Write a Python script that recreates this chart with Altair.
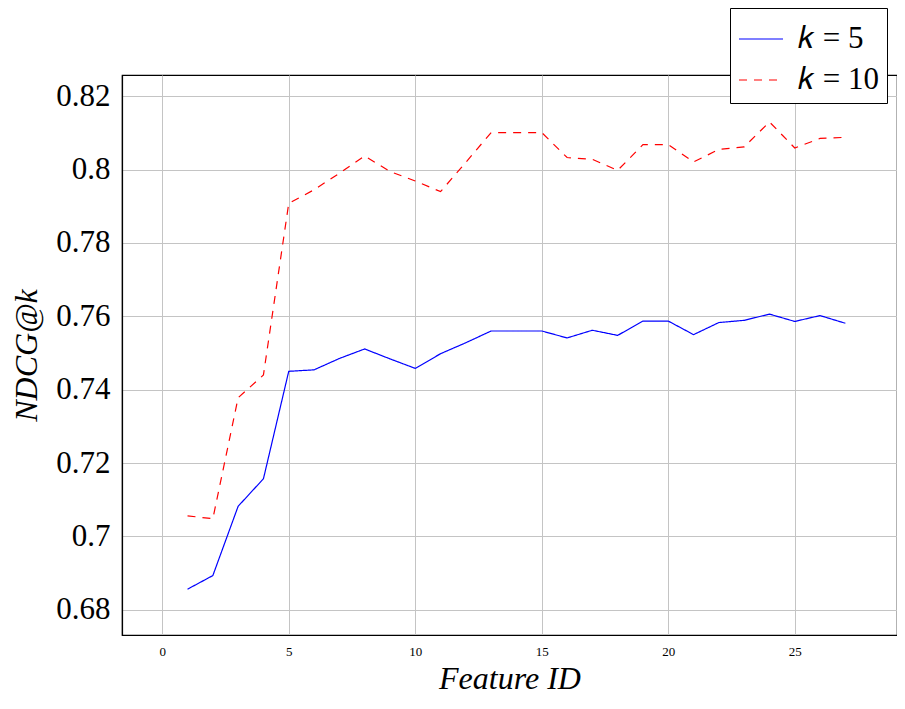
import altair as alt
import pandas as pd

feature_ids = list(range(1, 28))
ndcg_k5 = [0.6856, 0.6893, 0.7082, 0.7157, 0.7450, 0.7454, 0.7485, 0.7511, 0.7484,
           0.7458, 0.7498, 0.7528, 0.7560, 0.7560, 0.7560, 0.7541, 0.7562, 0.7548,
           0.7587, 0.7587, 0.7550, 0.7583, 0.7589, 0.7606, 0.7586, 0.7602, 0.7581]
ndcg_k10 = [0.7056, 0.7048, 0.7378, 0.7440, 0.7908, 0.7945, 0.7990, 0.8037, 0.7995,
            0.7969, 0.7940, 0.8020, 0.8101, 0.8101, 0.8101, 0.8033, 0.8028, 0.7998,
            0.8068, 0.8068, 0.8021, 0.8055, 0.8062, 0.8130, 0.8059, 0.8085, 0.8088]
series_names = ["\U0001D458 = 5", "\U0001D458 = 10"]
series_colors = ["#0000ff", "#ff0000"]
series_dash = [[1, 0], [8, 7]]
x_ticks = [0, 5, 10, 15, 20, 25]
y_ticks = [0.68, 0.70, 0.72, 0.74, 0.76, 0.78, 0.80, 0.82]

df = pd.DataFrame({
    "feature": feature_ids * 2,
    "value": ndcg_k5 + ndcg_k10,
    "series": [series_names[0]] * len(ndcg_k5) + [series_names[1]] * len(ndcg_k10),
})

FONT = "Liberation Serif"
W, H = 775, 560

legend = alt.Legend(
    title=None, orient="none", legendX=608, legendY=-67, direction="vertical",
    labelFont=FONT, labelFontSize=31, labelColor="black", labelOffset=14,
    symbolType="stroke", symbolSize=1936, symbolStrokeWidth=1.2,
    strokeColor="black", fillColor="white", padding=8, rowPadding=3,
    cornerRadius=0, labelLimit=300,
)

chart = alt.Chart(df).mark_line(strokeWidth=1.2, clip=True).encode(
    x=alt.X("feature:Q",
            scale=alt.Scale(domain=[-1.59, 29.04], nice=False, zero=False),
            axis=alt.Axis(values=x_ticks, title="Feature ID", format="d",
                          labelFont=FONT, labelFontSize=13, labelColor="black",
                          labelPadding=10, ticks=False,
                          titleFont=FONT, titleFontSize=32, titleFontStyle="italic",
                          titleFontWeight="normal", titleColor="black", titlePadding=5)),
    y=alt.Y("value:Q",
            scale=alt.Scale(domain=[0.6731, 0.8258], nice=False, zero=False),
            axis=alt.Axis(values=y_ticks, title="NDCG@k", format=".2~f",
                          labelFont=FONT, labelFontSize=31, labelColor="black",
                          labelPadding=12, ticks=False,
                          titleFont=FONT, titleFontSize=32, titleFontStyle="italic",
                          titleFontWeight="normal", titleColor="black", titlePadding=12)),
    color=alt.Color("series:N", scale=alt.Scale(domain=series_names, range=series_colors),
                    legend=legend),
    strokeDash=alt.StrokeDash("series:N", scale=alt.Scale(domain=series_names, range=series_dash),
                              legend=legend),
).properties(
    width=W, height=H,
    autosize=alt.AutoSizeParams(type="none"),
    padding={"left": 114, "top": 67, "right": 0, "bottom": 59},
).configure_view(
    stroke="black", strokeWidth=1.2,
).configure_axis(
    domainColor="black", domainWidth=1.2,
    gridColor="#c4c4c4", gridWidth=1,
)

chart.save("out.html", embed_options={"renderer": "svg", "actions": False})
